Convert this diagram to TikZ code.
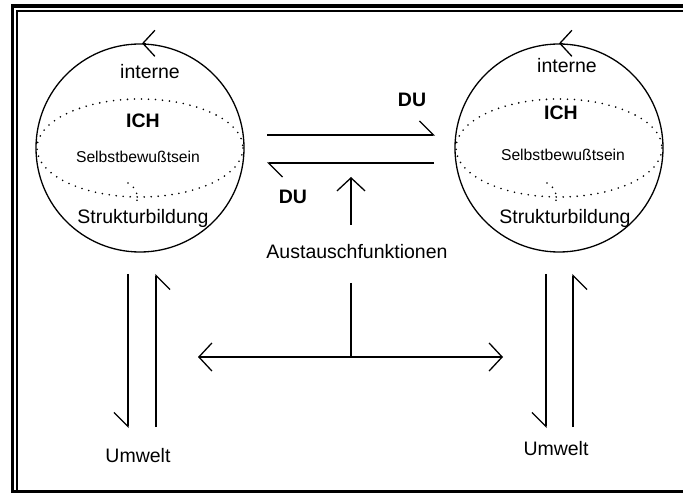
\documentclass[tikz,border=0pt]{standalone}
\usepackage{fontspec}
\setmainfont{Liberation Sans}
\usetikzlibrary{arrows.meta}
\begin{document}
\begin{tikzpicture}[x=1pt,y=-1pt,
  ln/.style={line width=1.3pt},
  vee/.style={ln,-{Straight Barb[length=13pt,width=28pt]}},
  cvee/.style={ln,-{Straight Barb[length=12pt,width=26pt]}},
  hl/.style={ln,-{Straight Barb[harpoon,length=14pt,width=28pt]}},
  hr/.style={ln,-{Straight Barb[harpoon,swap,length=14pt,width=28pt]}},
  dotl/.style={line width=1.8pt,line cap=round,dash pattern=on 0pt off 7pt},
  sphere/.style={circle,draw,ln,minimum size=208pt,inner sep=0pt},
  big/.style={font=\fontsize{19.5}{22}\selectfont,anchor=base,inner sep=0pt},
  bigb/.style={font=\fontsize{19.5}{22}\selectfont\bfseries,anchor=base,inner sep=0pt},
  small/.style={font=\fontsize{15.7}{18}\selectfont,anchor=base,inner sep=0pt}]
\useasboundingbox (0,0) rectangle (683,494);
\fill[white] (0,0) rectangle (683,494);
% frame
\draw[line width=3.5pt] (720,6) -- (12.5,6) -- (12.5,491.5) -- (720,491.5);
\draw[line width=2pt] (17,491) -- (17,11) -- (720,11);
% spheres
\node[sphere] (lc) at (140,148) {};
\node[sphere] (rc) at (559,148) {};
\draw[dotl] (lc.center) ellipse [x radius=103, y radius=49];
\draw[dotl] (rc.center) ellipse [x radius=103, y radius=49];
\begin{scope}[shift={(lc.center)}]
  \draw[dotl] (-12,35) .. controls (-4,41) .. (-3,47) -- (-3,56);
\end{scope}
\begin{scope}[shift={(rc.center)}]
  \draw[dotl] (-12,35) .. controls (-4,41) .. (-3,47) -- (-3,56);
\end{scope}
\draw[cvee] ([xshift=6pt]lc.north) -- ([xshift=2pt]lc.north);
\draw[cvee] ([xshift=4pt]rc.north) -- ([xshift=0pt]rc.north);
% texts
\node[big] (lint) at (150,79) {interne};
\node[bigb] (lich) at (143,128) {ICH};
\node[small] (lsel) at (138,163) {Selbstbewußtsein};
\node[big] (lstr) at (143,224) {Strukturbildung};
\node[big] (rint) at (567,73) {interne};
\node[bigb] (rich) at (561,120) {ICH};
\node[small] (rsel) at (563,161) {Selbstbewußtsein};
\node[big] (rstr) at (565,224) {Strukturbildung};
\node[bigb] (du1) at (412,107) {DU};
\node[bigb] (du2) at (293,204) {DU};
\node[big] (aus) at (357,259) {Austauschfunktionen};
\node[big] (lum) at (138,462) {Umwelt};
\node[big] (rum) at (556,455) {Umwelt};
% DU arrows
\coordinate (d1s) at (267,135); \coordinate (d1e) at (435,135);
\coordinate (d2s) at (434,163); \coordinate (d2e) at (267,163);
\draw[hl] (d1s) -- (d1e);
\draw[hl] (d2s) -- (d2e);
% exchange arrows
\coordinate (ups) at (351,225); \coordinate (upe) at (351,177);
\draw[vee] (ups) -- (upe);
\coordinate (vt) at (351,283); \coordinate (vj) at (351,357);
\coordinate (hlft) at (198,357); \coordinate (hrgt) at (503,357);
\draw[ln] (vt) -- (vj);
\draw[vee,{Straight Barb[length=13pt,width=28pt]}-{Straight Barb[length=13pt,width=28pt]}] (hlft) -- (hrgt);
% Umwelt arrows
\coordinate (la1) at (128,274); \coordinate (la2) at (128,428);
\coordinate (lb1) at (156,427); \coordinate (lb2) at (156,274);
\draw[hr] (la1) -- (la2);
\draw[hr] (lb1) -- (lb2);
\coordinate (ra1) at (546,274); \coordinate (ra2) at (546,428);
\coordinate (rb1) at (573,427); \coordinate (rb2) at (573,274);
\draw[hr] (ra1) -- (ra2);
\draw[hr] (rb1) -- (rb2);
\end{tikzpicture}
\end{document}
